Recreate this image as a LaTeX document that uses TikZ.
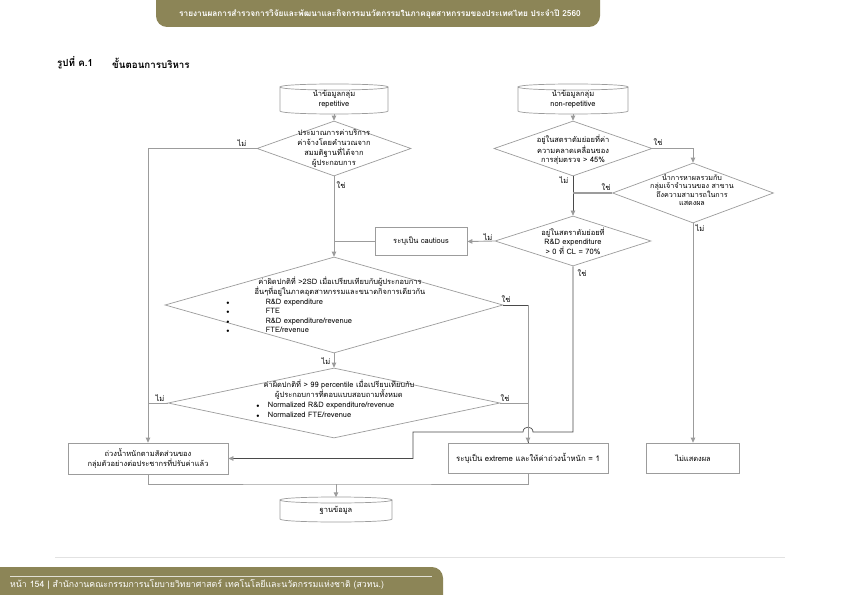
\documentclass[tikz,border=0pt]{standalone}
\usepackage{fontspec}
\newfontfamily\thai[Script=Thai]{Loma}
\usetikzlibrary{shapes.geometric,arrows.meta}
\definecolor{band}{HTML}{8C8557}
\definecolor{ln}{HTML}{9C9C9C}
\definecolor{dk}{HTML}{4A4A4A}
\definecolor{sep}{HTML}{E2E2E2}
\newcommand\mycyl[4]{%
  \draw[shp] (#1,#2+3) .. controls (#1,#2-1) and (#3,#2-1) .. (#3,#2+3)
     .. controls (#3,#2+7) and (#1,#2+7) .. (#1,#2+3) -- (#1,#4-3)
     .. controls (#1,#4+1) and (#3,#4+1) .. (#3,#4-3) -- (#3,#2+3);}
\begin{document}
\begin{tikzpicture}[x=1bp,y=-1bp,
  font=\thai\fontsize{7.5}{10}\selectfont,
  shp/.style={draw=ln, line width=0.7bp},
  box/.style={shp, rectangle, inner sep=0, align=center},
  dia/.style={shp, diamond, inner sep=0},
  hold/.style={inner sep=0, align=center},
  txt/.style={inner sep=0, align=center},
  con/.style={draw=ln, line width=0.9bp},
  dcon/.style={draw=dk, line width=0.7bp},
  arr/.style={con, -{Triangle[length=5bp,width=4.5bp]}},
  darr/.style={dcon, -{Triangle[length=5bp,width=4.5bp,color=ln]}},
  lab/.style={inner sep=0, font=\thai\fontsize{7.5}{9}\selectfont},
  bul/.style={inner sep=0, align=left, anchor=north west}]
\useasboundingbox (0,0) rectangle (842,595);
\fill[white] (0,0) rectangle (842,595);
% header band
\fill[band, rounded corners=11bp] (156,-15) rectangle (600,27);
\node[txt, white, font=\thai\bfseries\fontsize{8.3}{10}\selectfont] (hdr) at (380,14)
  {รายงานผลการสำรวจการวิจัยและพัฒนาและกิจกรรมนวัตกรรมในภาคอุตสาหกรรมของประเทศไทย ประจำปี 2560};
% title
\node[anchor=west, inner sep=0, font=\thai\bfseries\fontsize{9.8}{11}\selectfont] (ttl1) at (57,63) {รูปที่ ค.1};
\node[anchor=west, inner sep=0, font=\thai\bfseries\fontsize{9.8}{11}\selectfont] (ttl2) at (112,63) {ขั้นตอนการบริหาร};
% footer
\draw[sep, line width=0.6bp] (55,557) -- (785,557);
\fill[band, rounded corners=11bp] (-15,567) rectangle (443,610);
\draw[white!75!band, line width=0.5bp] (10,576) -- (432,576);
\node[anchor=west, inner sep=0, white, font=\thai\fontsize{8.8}{10}\selectfont] (ftr) at (10,584.5)
  {หน้า 154 | สำนักงานคณะกรรมการนโยบายวิทยาศาสตร์ เทคโนโลยีและนวัตกรรมแห่งชาติ (สวทน.)};

% cylinders
\mycyl{280}{84}{388}{114}
\node[hold, minimum width=108bp, minimum height=30bp] (c1) at (334,99) {นำข้อมูลกลุ่ม\\repetitive};
\mycyl{518}{84}{628}{114}
\node[hold, minimum width=110bp, minimum height=30bp] (c2) at (573,99) {นำข้อมูลกลุ่ม\\non-repetitive};
\mycyl{280}{497}{392}{522}
\node[hold, minimum width=112bp, minimum height=25bp] (db) at (336,510) {ฐานข้อมูล};

% diamonds
\node[dia, minimum width=154bp, minimum height=55bp] (d1) at (334,148.5) {};
\node[txt, font=\thai\fontsize{7.5}{10}\selectfont] (d1t) at (334,148.5)
  {ประมาณการค่าบริการ\\ค่าจ้างโดยคำนวณจาก\\สมมติฐานที่ได้จาก\\ผู้ประกอบการ};
\node[dia, minimum width=158bp, minimum height=55bp] (d2) at (573,148.5) {};
\node[txt, font=\thai\fontsize{7.5}{9.3}\selectfont] (d2t) at (573,150)
  {อยู่ในสตราตัมย่อยที่ค่า\\ความคลาดเคลื่อนของ\\การสุ่มตรวจ > 45\%};
\node[dia, minimum width=161bp, minimum height=60bp] (d4) at (693,193) {};
\node[txt, font=\thai\fontsize{7.2}{8.4}\selectfont] (d4t) at (692,190)
  {นำการหาผลรวมกับ\\กลุ่มเจ้าจำนวนของ สาขาน\\ถึงความสามารถในการ\\แสดงผล};
\node[dia, minimum width=156bp, minimum height=50bp] (d5) at (573,241) {};
\node[txt, font=\thai\fontsize{7.5}{9.3}\selectfont] (d5t) at (573,241)
  {อยู่ในสตราตัมย่อยที่\\R\&D expenditure\\> 0 ที่ CL = 70\%};
\node[dia, minimum width=338bp, minimum height=96bp] (d3) at (334,305) {};
\node[txt, font=\thai\fontsize{7.5}{9.8}\selectfont] (d3t) at (340,286.5)
  {ค่าผิดปกติที่ >2SD เมื่อเปรียบเทียบกับผู้ประกอบการ\\อื่นๆที่อยู่ในภาคอุตสาหกรรมและขนาดกิจการเดียวกัน};
\node[bul, font=\thai\fontsize{7.5}{9.5}\selectfont] (d3b) at (226,297.5)
  {\begin{tabular}{@{}l@{\hspace{36bp}}l@{}}
   {\tiny$\bullet$} & R\&D expenditure\\
   {\tiny$\bullet$} & FTE\\
   {\tiny$\bullet$} & R\&D expenditure/revenue\\
   {\tiny$\bullet$} & FTE/revenue
   \end{tabular}};
\node[dia, minimum width=332bp, minimum height=70bp] (d6) at (334,403) {};
\node[txt, font=\thai\fontsize{7.5}{9.8}\selectfont] (d6t) at (339,390)
  {ค่าผิดปกติที่ > 99 percentile เมื่อเปรียบเทียบกับ\\ผู้ประกอบการที่ตอบแบบสอบถามทั้งหมด};
\node[bul, font=\thai\fontsize{7.5}{9.5}\selectfont] (d6b) at (256,401)
  {\begin{tabular}{@{}l@{\hspace{8bp}}l@{}}
   {\tiny$\bullet$} & Normalized R\&D expenditure/revenue\\
   {\tiny$\bullet$} & Normalized FTE/revenue
   \end{tabular}};

% boxes
\node[box, minimum width=92bp, minimum height=28bp] (cau) at (421,241.5) {ระบุเป็น cautious};
\node[box, minimum width=160bp, minimum height=31bp, font=\thai\fontsize{7.5}{10}\selectfont] (wt) at (148,458.5)
  {ถ่วงน้ำหนักตามสัดส่วนของ\\กลุ่มตัวอย่างต่อประชากรที่ปรับค่าแล้ว};
\node[box, minimum width=160bp, minimum height=30bp, font=\thai\fontsize{7.8}{10}\selectfont] (ext) at (528,458)
  {ระบุเป็น extreme และให้ค่าถ่วงน้ำหนัก = 1};
\node[box, minimum width=93bp, minimum height=30bp] (nd) at (693,458) {ไม่แสดงผล};

% connectors
\draw[arr] (c1.south) -- (d1.north);
\draw[arr] (d1.west) -| (wt.north);
\draw[arr] (d1.south) -- (d3.north);
\draw[con] (cau.west) -- (cau.west -| d1.south);
\draw[arr] (c2.south) -- (d2.north);
\draw[arr] (d2.east) -| (d4.north);
\draw[darr] (d2.south) -- (d5.north);
\draw[con, line width=1.3bp] (d4.west) -- (d4.west -| d2.south);
\draw[arr] (d4.south) -- (nd.north);
\draw[arr] (d5.west) -- (cau.east);
\coordinate (hopR) at (533,432);
\coordinate (hopL) at (523,432);
\coordinate (bend) at (413,432);
\draw[darr] (d5.south) |- (hopR) .. controls +(0,-6.5) and +(0,-6.5) .. (hopL) -- (bend) |- (wt.east);
\draw[dcon] (d3.east) -| (ext.north);
\draw[arr] (d3.east -| ext.north) -- (ext.north);
\draw[con] (d6.east) -- (d6.east -| ext.north);
\draw[con] (d6.west) -- (d6.west -| wt.north);
\draw[arr] (d3.south) -- (d6.north);
\coordinate (bj) at (336,484);
\draw[con] (wt.south) |- (bj) -| (ext.south);
\draw[arr] (bj) -- (db.north);

% labels
\node[lab] (l1) at (242,143) {ไม่};
\node[lab] (l2) at (341,185) {ใช่};
\node[lab] (l3) at (658,142) {ใช่};
\node[lab] (l4) at (564,180) {ไม่};
\node[lab] (l5) at (606,187) {ใช่};
\node[lab] (l6) at (700,228) {ไม่};
\node[lab] (l7) at (488,237) {ไม่};
\node[lab] (l8) at (582,273) {ใช่};
\node[lab] (l9) at (506,299) {ใช่};
\node[lab] (l10) at (326,361) {ไม่};
\node[lab] (l11) at (160,398) {ไม่};
\node[lab] (l12) at (505,398) {ใช่};
\end{tikzpicture}
\end{document}
